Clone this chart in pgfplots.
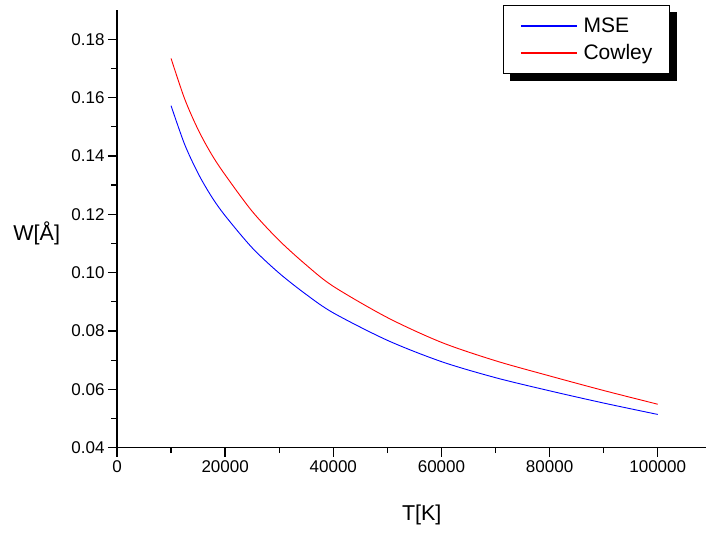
\documentclass[border=0pt]{standalone}
\usepackage{fontspec}
\setmainfont{Liberation Sans}
\usepackage{pgfplots}
\pgfplotsset{compat=1.18}
\usepackage{pgfplotstable}
\usetikzlibrary{backgrounds}

\pgfplotstableread{
T       MSE     Cowley
10000   0.1572  0.1734
12500   0.1440  0.1596
15000   0.1340  0.1490
17500   0.1260  0.1405
20000   0.1195  0.1335
25000   0.1085  0.1210
30000   0.0998  0.1110
35000   0.0925  0.1026
40000   0.0862  0.0953
50000   0.0768  0.0846
60000   0.0695  0.0761
70000   0.0640  0.0698
80000   0.0595  0.0646
90000   0.0553  0.0596
100000  0.0514  0.0549
}\datatable

\begin{document}
\begin{tikzpicture}
\begin{axis}[
  scale only axis,
  width=589.4pt, height=437.7pt,
  xmin=0, xmax=109000,
  ymin=0.04, ymax=0.19,
  axis x line=bottom, axis y line=left,
  axis line style={-, line width=1.3pt, black},
  tick align=outside,
  major tick length=9pt, minor tick length=5.5pt,
  every tick/.style={line width=1.3pt, black},
  minor tick num=1,
  xtick={0,20000,40000,60000,80000,100000},
  xticklabels={0,20000,40000,60000,80000,100000},
  ytick={0.04,0.06,0.08,0.10,0.12,0.14,0.16,0.18},
  yticklabels={0.04,0.06,0.08,0.10,0.12,0.14,0.16,0.18},
  scaled x ticks=false, scaled y ticks=false,
  xticklabel style={font=\fontsize{17}{20}\selectfont},
  yticklabel style={font=\fontsize{17}{20}\selectfont},
  xlabel={T[K]},
  xlabel style={font=\fontsize{21.5}{24}\selectfont, at={(axis description cs:0.517,0)}, anchor=center, yshift=-67pt},
  ylabel={W[Å]},
  ylabel style={font=\fontsize{21.5}{24}\selectfont, rotate=-90, at={(axis description cs:0,0.49)}, anchor=center, xshift=-80.3pt},
  legend cell align=left,
  legend image code/.code={\draw[#1] (0pt,0pt) -- (56pt,0pt);},
  legend style={
    name=leg,
    at={(axis description cs:0.655,1.0114)}, anchor=north west,
    draw, line width=0.8pt, fill=white,
    inner xsep=16.7pt, inner ysep=8pt,
    font=\fontsize{21}{24}\selectfont,
    nodes={inner sep=0pt, text height=19.5pt, text depth=5.8pt},
    row sep=1.7pt, column sep=6pt,
  },
]
\addlegendimage{draw=blue, line width=1.2pt}
\addlegendentry{MSE}
\addlegendimage{draw=red, line width=1.4pt}
\addlegendentry{Cowley}
\addplot[blue, line width=0.9pt, smooth, forget plot] table[x=T, y=MSE] {\datatable};
\addplot[red, line width=0.9pt, smooth, forget plot] table[x=T, y=Cowley] {\datatable};
\coordinate (O) at (rel axis cs:0,0);
\end{axis}
\begin{scope}[on background layer]
\fill[black] ([xshift=7pt,yshift=-7pt]leg.south west) rectangle ([xshift=7pt,yshift=-7pt]leg.north east);
\end{scope}
\pgfresetboundingbox
\path (O) ++(-117pt,-88.3pt) rectangle ++(707pt,536pt);
\end{tikzpicture}
\end{document}
